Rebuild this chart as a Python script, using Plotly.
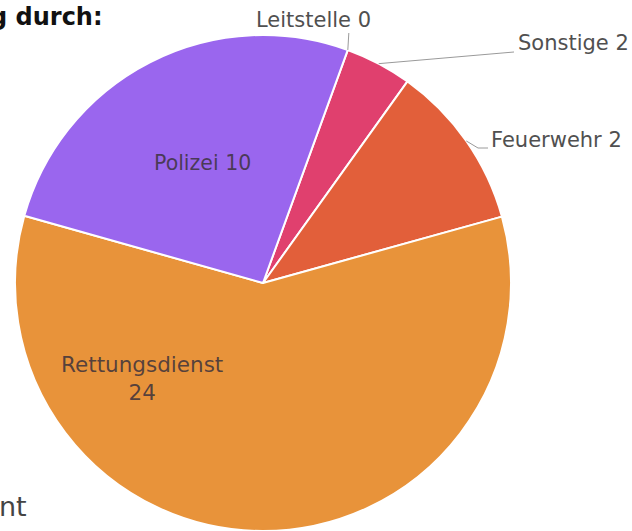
import math
import plotly.graph_objects as go

# ---- data ----
categories = ["Leitstelle", "Sonstige", "Feuerwehr", "Rettungsdienst", "Polizei"]
slice_sizes = [0, 1.65, 4.1, 22.3, 9.95]      # sizes as drawn
shown_values = [0, 2, 2, 24, 10]               # numbers printed in the labels
colors = ["#8E8E8E", "#E0406E", "#E25F3A", "#E8933A", "#9A66EE"]

# ---- layout constants ----
W, H = 632, 531
CX, CY, R = 263, 283, 248
ROT = 20

def px(x, y):
    return x / W, 1 - y / H

def edge(angle_deg, r=R):
    a = math.radians(angle_deg)
    return CX + r * math.sin(a), CY - r * math.cos(a)

total = sum(slice_sizes)
starts, mids = [], []
acc = ROT
for v in slice_sizes:
    starts.append(acc)
    mids.append(acc + v / total * 180)
    acc += v / total * 360

fig = go.Figure(go.Pie(
    labels=categories,
    values=slice_sizes,
    sort=False,
    direction="clockwise",
    rotation=ROT,
    marker=dict(colors=colors, line=dict(color="white", width=2)),
    textinfo="none",
    hoverinfo="label+value",
    domain=dict(x=[(CX - R) / W, (CX + R) / W], y=[0, 2 * R / H]),
    showlegend=False,
))

label_font = dict(family="DejaVu Sans", size=21, color="#505050")
inside_font = dict(family="DejaVu Sans", size=20.5, color="rgba(60,50,60,0.85)")

annotations = []
shapes = []

def add_text(text, x, y, xanchor, font, yanchor="middle"):
    ax, ay = px(x, y)
    annotations.append(dict(text=text, x=ax, y=ay, xref="paper", yref="paper",
                            xanchor=xanchor, yanchor=yanchor, showarrow=False,
                            font=font, align="center"))

def add_path(points):
    d = "M " + " L ".join(f"{px(x, y)[0]},{px(x, y)[1]}" for x, y in points)
    shapes.append(dict(type="path", path=d, xref="paper", yref="paper",
                       line=dict(color="#9A9A9A", width=1)))

# Leitstelle (zero slice) - label above its boundary
ex, ey = edge(starts[0])
add_path([(ex, ey), (ex + 1, 33)])
add_text(f"{categories[0]} {shown_values[0]}", 313, 20, "center", label_font)

# Sonstige
ex, ey = edge(mids[1])
add_path([(ex, ey), (514, 52)])
add_text(f"{categories[1]} {shown_values[1]}", 516, 43, "left", label_font)

# Feuerwehr
ex, ey = edge(mids[2])
add_path([(ex, ey), (478, 148), (488, 148)])
add_text(f"{categories[2]} {shown_values[2]}", 489, 140, "left", label_font)

# inside labels
add_text(f"{categories[4]} {shown_values[4]}", 202, 163, "center", inside_font)
add_text(f"{categories[3]}<br>{shown_values[3]}", 142, 378, "center",
         dict(family="DejaVu Sans", size=21.5, color="rgba(60,50,60,0.85)"))

# cut-off slide texts
add_text("<b>g durch:</b>", 105, 17, "right",
         dict(family="DejaVu Sans", size=24, color="#111111"))
add_text("nt", 29, 506, "right", dict(family="DejaVu Sans", size=27, color="#444444"))

fig.update_layout(
    width=W, height=H,
    margin=dict(l=0, r=0, t=0, b=0),
    paper_bgcolor="white", plot_bgcolor="white",
    annotations=annotations, shapes=shapes,
)

fig.write_html("out.html")
